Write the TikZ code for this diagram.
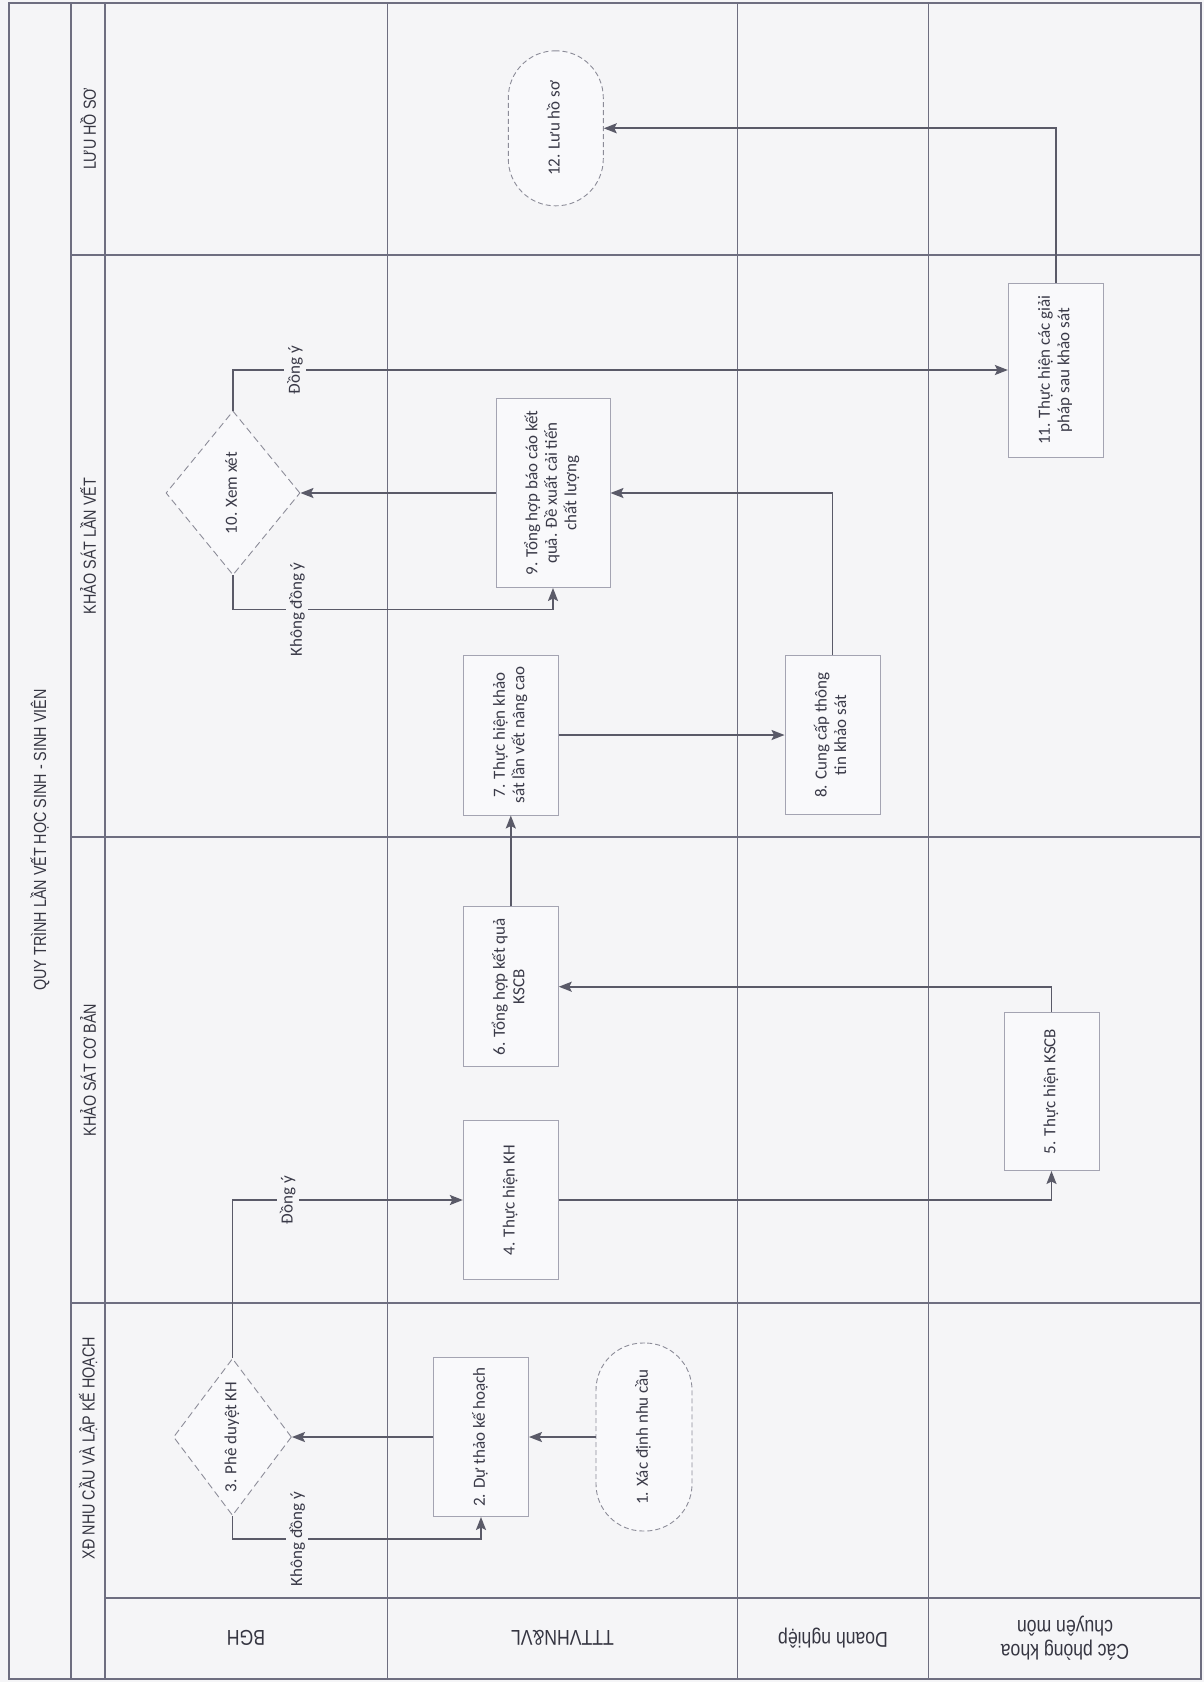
\documentclass[tikz,border=0pt]{standalone}
\usepackage{fontspec}
\setmainfont{Carlito}
\newfontfamily\hdrfamily{Liberation Sans}[FakeStretch=0.82]
\usetikzlibrary{arrows.meta,shapes.geometric}
\definecolor{bgcol}{HTML}{F5F5F7}
\definecolor{gridc}{HTML}{6E6E80}
\definecolor{boxc}{HTML}{A4A4B2}
\definecolor{dashc}{HTML}{8C8C98}
\definecolor{nodefill}{HTML}{F9F9FB}
\definecolor{arrc}{HTML}{5A5A68}
\definecolor{txtc}{HTML}{3A3A48}
\definecolor{hdrc}{HTML}{363642}
\newcommand{\nfnt}{\fontsize{17}{19.5}\selectfont}
\newcommand{\hfnt}{\hdrfamily\fontsize{17.5}{20}\selectfont}
\newcommand{\lfnt}{\hdrfamily\fontsize{21.5}{24}\selectfont}
\newcommand{\rt}[1]{\rotatebox{90}{\begin{tabular}{@{}c@{}}#1\end{tabular}}}
\begin{document}
\begin{tikzpicture}[x=1pt,y=-1pt,
  gridl/.style={draw=gridc,line width=1.3pt},
  box/.style={rectangle,draw=boxc,line width=0.9pt,fill=nodefill,inner sep=0pt,text=txtc,font=\nfnt},
  term/.style={rectangle,rounded corners=47pt,draw=dashc,line width=0.9pt,dash pattern=on 5pt off 3pt,fill=nodefill,inner sep=0pt,text=txtc,font=\nfnt},
  dec/.style={diamond,draw=dashc,line width=0.9pt,dash pattern=on 7pt off 4pt,fill=nodefill,inner sep=0pt},
  dectxt/.style={text=txtc,font=\nfnt,inner sep=0pt},
  flow/.style={draw=arrc,line width=1.9pt,-{Stealth[length=13pt,width=10pt,inset=2.5pt]}},
  lbl/.style={fill=bgcol,inner sep=3pt,rotate=90,text=txtc,font=\nfnt},
  hdr/.style={text=hdrc,font=\hfnt},
  lane/.style={text=hdrc,font=\lfnt,rotate=180,align=center}
]
\useasboundingbox (0,0) rectangle (1204,1682);
\fill[bgcol] (0,0) rectangle (1204,1682);

% grid
\draw[gridl] (9,3) rectangle (1201,1679);
\draw[gridl] (71,3) -- (71,1679);
\draw[gridl] (105,3) -- (105,1679);
\draw[gridl] (387.5,3) -- (387.5,1679);
\draw[gridl] (737.5,3) -- (737.5,1679);
\draw[gridl] (928.3,3) -- (928.3,1679);
\draw[gridl] (71,255) -- (1201,255);
\draw[gridl] (71,837) -- (1201,837);
\draw[gridl] (71,1303) -- (1201,1303);
\draw[gridl] (105,1598) -- (1201,1598);

% title and phase labels
\node[hdr,rotate=90] (title) at (40,840) {QUY TRÌNH LẦN VẾT HỌC SINH - SINH VIÊN};
\node[hdr,rotate=90] (ph4) at (88,129) {LƯU HỒ SƠ};
\node[hdr,rotate=90] (ph3) at (88,546) {KHẢO SÁT LẦN VẾT};
\node[hdr,rotate=90] (ph2) at (88,1070) {KHẢO SÁT CƠ BẢN};
\node[hdr,rotate=90] (ph1) at (88,1448) {XĐ NHU CẦU VÀ LẬP KẾ HOẠCH};

% lane labels
\node[lane] (l1) at (246,1638) {BGH};
\node[lane] (l2) at (562.5,1638) {TTTVHN\&VL};
\node[lane] (l3) at (833,1638) {Doanh nghiệp};
\node[lane] (l4) at (1065,1638) {Các phòng khoa\\chuyên môn};

% nodes
\node[term,minimum width=96pt,minimum height=188pt] (n1) at (644,1437) {\rt{1. Xác định nhu cầu}};
\node[box,minimum width=95pt,minimum height=159pt] (n2) at (481,1437) {\rt{2. Dự thảo kế hoạch}};
\node[dec,minimum width=118pt,minimum height=157pt] (n3) at (232.5,1437) {};
\node[dectxt] (t3) at (n3.center) {\rt{3. Phê duyệt KH}};
\node[box,minimum width=95pt,minimum height=159pt] (n4) at (510.8,1200) {\rt{4. Thực hiện KH}};
\node[box,minimum width=95pt,minimum height=158pt] (n5) at (1051.5,1091.5) {\rt{5. Thực hiện KSCB}};
\node[box,minimum width=95pt,minimum height=160pt] (n6) at (510.8,986.7) {\rt{6. Tổng hợp kết quả\\KSCB}};
\node[box,minimum width=95pt,minimum height=160pt] (n7) at (510.8,735) {\rt{7. Thực hiện khảo\\sát lần vết nâng cao}};
\node[box,minimum width=95pt,minimum height=159pt] (n8) at (832.5,735) {\rt{8. Cung cấp thông\\tin khảo sát}};
\node[box,minimum width=114pt,minimum height=189pt] (n9) at (553,493) {\rt{9. Tổng hợp báo cáo kết\\quả. Đề xuất cải tiến\\chất lượng}};
\node[dec,minimum width=134pt,minimum height=164pt] (n10) at (233,493) {};
\node[dectxt] (t10) at (n10.center) {\rt{10. Xem xét}};
\node[box,minimum width=95pt,minimum height=174pt] (n11) at (1055.8,370) {\rt{11. Thực hiện các giải\\pháp sau khảo sát}};
\node[term,minimum width=95pt,minimum height=155pt] (n12) at (555.8,128.3) {\rt{12. Lưu hồ sơ}};

% connectors
\draw[flow] (n1.west) -- (n2.east);
\draw[flow] (n2.west) -- (n3.east);
\draw[flow] (n3.south) -- ++(0,23) -| node[lbl,pos=0.13] {Không đồng ý} (n2.south);
\draw[flow] (n3.north) |- node[lbl,pos=0.62] {Đồng ý} (n4.west);
\draw[flow] (n4.east) -| (n5.south);
\draw[flow] (n5.north) |- (n6.east);
\draw[flow] (n6.north) -- (n7.south);
\draw[flow] (n7.east) -- (n8.west);
\draw[flow] (n8.north) |- (n9.east);
\draw[flow] (n9.west) -- (n10.east);
\draw[flow] (n10.south) -- ++(0,34) -| node[lbl,pos=0.1] {Không đồng ý} (n9.south);
\draw[flow] (n10.north) |- node[lbl,pos=0.54] {Đồng ý} (n11.west);
\draw[flow] (n11.north) |- (n12.east);
\end{tikzpicture}
\end{document}
